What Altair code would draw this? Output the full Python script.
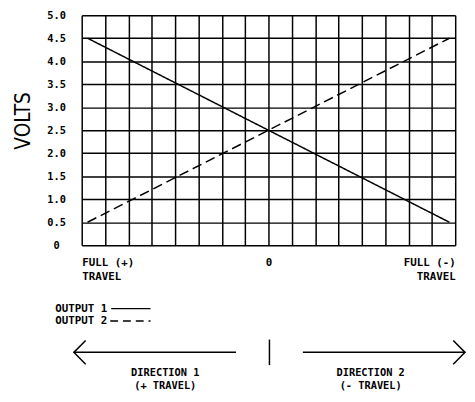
import json
import altair as alt
import pandas as pd

# ---- data ----
x_ends = [-7.75, 7.75]           # travel position (grid columns from centre)
output_1 = [4.5, 0.5]            # volts, solid line
output_2 = [0.5, 4.5]            # volts, dashed line
series_names = ["OUTPUT 1", "OUTPUT 2"]
y_ticks = [0, 0.5, 1.0, 1.5, 2.0, 2.5, 3.0, 3.5, 4.0, 4.5, 5.0]
x_ticks = list(range(-8, 9))
x_label_left = ["FULL (+)", "TRAVEL"]
x_label_mid = ["0"]
x_label_right = ["FULL (-)", "TRAVEL"]
direction_1 = ["DIRECTION 1", "(+ TRAVEL)"]
direction_2 = ["DIRECTION 2", "(- TRAVEL)"]
y_title = "VOLTS"

MONO = "DejaVu Sans Mono"
TITLE_FONT = "Liberation Sans Narrow, Arial Narrow, DejaVu Sans Condensed, sans-serif"

df = pd.DataFrame({
    "x": x_ends + x_ends,
    "volts": output_1 + output_2,
    "series": [series_names[0]] * 2 + [series_names[1]] * 2,
})

x_expr = (
    f"datum.value == {x_ticks[0]} ? {json.dumps(x_label_left)} : "
    f"datum.value == 0 ? {json.dumps(x_label_mid)} : "
    f"datum.value == {x_ticks[-1]} ? {json.dumps(x_label_right)} : ''"
)

x_axis = alt.Axis(
    values=x_ticks, labelExpr=x_expr, title=None, grid=True, gridColor="black",
    gridWidth=1.5, gridOpacity=1, ticks=False, domain=False, labelFlush=True,
    labelOverlap=False, labelBaseline="top", labelPadding=12, labelLineHeight=13.5,
    labelFont=MONO, labelFontWeight="bold", labelFontSize=11, labelColor="black",
    labelBound=False,
)
y_axis = alt.Axis(
    values=y_ticks, labelExpr="datum.value == 0 ? '0' : format(datum.value, '.1f')",
    title=y_title, grid=True, gridColor="black", gridWidth=1.5, gridOpacity=1,
    ticks=False, domain=False, labelFlush=False, labelOverlap=False,
    labelAlign="center", labelBaseline="middle", labelPadding=26,
    labelFont=MONO, labelFontWeight="bold", labelFontSize=10.5, labelColor="black",
    titleFont=TITLE_FONT, titleFontSize=21, titleFontWeight="normal",
    titleColor="black", titleAngle=270, titleX=-59, titleY=107,
    titleAlign="center", titleBaseline="middle", labelBound=False,
)

lines = alt.Chart(df).mark_line(color="black", strokeWidth=1.5).encode(
    x=alt.X("x:Q", scale=alt.Scale(domain=[-8, 8], nice=False, zero=False), axis=x_axis),
    y=alt.Y("volts:Q", scale=alt.Scale(domain=[0, 5], nice=False), axis=y_axis),
    strokeDash=alt.StrokeDash(
        "series:N",
        scale=alt.Scale(domain=series_names, range=[[1, 0], [10, 5]]),
        legend=None,
    ),
)


def one(label):
    return alt.Chart(pd.DataFrame({"label": [label]}))


text_style = dict(font=MONO, fontWeight="bold", fontSize=11, color="black")
dir_style = dict(font=MONO, fontWeight="bold", fontSize=10.5, color="black")

# legend (label first, then line sample)
leg1_text = one(series_names[0]).mark_text(align="left", baseline="middle", **text_style).encode(
    x=alt.value(-27), y=alt.value(298.5), text="label:N")
leg2_text = one(series_names[1]).mark_text(align="left", baseline="middle", **text_style).encode(
    x=alt.value(-27), y=alt.value(311), text="label:N")
leg1_line = one(series_names[0]).mark_rule(color="black", strokeWidth=1.5).encode(
    x=alt.value(30), x2=alt.value(70), y=alt.value(298.5))
leg2_line = one(series_names[1]).mark_rule(color="black", strokeWidth=1.5, strokeDash=[8, 5]).encode(
    x=alt.value(29), x2=alt.value(70), y=alt.value(311))

# direction arrows
arrow_left = one("d1").mark_rule(color="black", strokeWidth=1.5).encode(
    x=alt.value(-8), x2=alt.value(157), y=alt.value(343))
head_left = one("d1").mark_point(shape="M1,-1L0,0L1,1", filled=False, stroke="black",
                                 strokeWidth=1.5, size=576, opacity=1).encode(
    x=alt.value(-8), y=alt.value(343))
arrow_right = one("d2").mark_rule(color="black", strokeWidth=1.5).encode(
    x=alt.value(225), x2=alt.value(390), y=alt.value(343))
head_right = one("d2").mark_point(shape="M-1,-1L0,0L-1,1", filled=False, stroke="black",
                                  strokeWidth=1.5, size=576, opacity=1).encode(
    x=alt.value(390), y=alt.value(343))
divider = one("c").mark_rule(color="black", strokeWidth=1.5).encode(
    x=alt.value(191), y=alt.value(330), y2=alt.value(356))

# direction captions, one text per line
d1_top = one(direction_1[0]).mark_text(align="center", baseline="top", **dir_style).encode(
    x=alt.value(85), y=alt.value(359.5), text="label:N")
d1_bot = one(direction_1[1]).mark_text(align="center", baseline="top", **dir_style).encode(
    x=alt.value(85), y=alt.value(372), text="label:N")
d2_top = one(direction_2[0]).mark_text(align="center", baseline="top", **dir_style).encode(
    x=alt.value(294), y=alt.value(359.5), text="label:N")
d2_bot = one(direction_2[1]).mark_text(align="center", baseline="top", **dir_style).encode(
    x=alt.value(294), y=alt.value(372), text="label:N")

chart = alt.layer(
    lines, leg1_text, leg2_text, leg1_line, leg2_line,
    arrow_left, head_left, arrow_right, head_right, divider,
    d1_top, d1_bot, d2_top, d2_bot,
).properties(
    width=380,
    height=234,
    autosize=alt.AutoSizeParams(type="none"),
    padding={"left": 75, "top": 4, "right": 12, "bottom": 148},
    background="white",
).configure_view(stroke=None)

chart.save("out.html", embed_options={"renderer": "svg", "actions": False})
